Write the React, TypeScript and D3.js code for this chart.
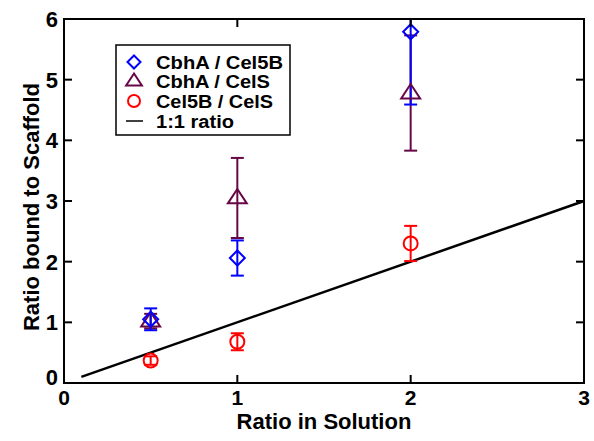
import React from "react";
import * as d3 from "d3";

const xTicks = [0, 1, 2, 3];
const yTicks = [0, 1, 2, 3, 4, 5, 6];

const seriesNames = ["CbhA / Cel5B", "CbhA / CelS", "Cel5B / CelS", "1:1 ratio"];
const seriesColors = ["#0000ff", "#670748", "#ff0000", "#000000"];

const ratioX = [0.5, 1, 2];
const cbhaCel5b = [1.05, 2.06, 5.79];
const cbhaCel5bErr = [0.18, 0.29, 1.2];
const cbhaCels = [1.02, 3.05, 4.78];
const cbhaCelsErr = [0.12, 0.66, 0.95];
const cel5bCels = [0.37, 0.68, 2.3];
const cel5bCelsErr = [0.07, 0.14, 0.29];
const unityLine = [0.1, 3];

const W = 594;
const H = 441;
const m = { left: 64, right: 10, top: 19, bottom: 58 };

export default function App() {
  const x = d3.scaleLinear().domain([0, 3]).range([m.left, W - m.right]);
  const y = d3.scaleLinear().domain([0, 6]).range([H - m.bottom, m.top]);
  const font = "'Liberation Sans', Arial, Helvetica, sans-serif";
  const line = d3.line<number>().x((d) => x(d)).y((d) => y(d));
  const cap = 6.5;

  const diamond = (cx: number, cy: number, r: number) =>
    `M${cx},${cy - r}L${cx + r},${cy}L${cx},${cy + r}L${cx - r},${cy}Z`;
  const triangle = (cx: number, cy: number, r: number) =>
    `M${cx},${cy - r}L${cx + r * 1.05},${cy + r * 0.6}L${cx - r * 1.05},${cy + r * 0.6}Z`;

  const errBars = (vals: number[], errs: number[], color: string) =>
    ratioX.map((xv, i) => {
      const px = x(xv);
      const top = y(Math.min(vals[i] + errs[i], 6));
      const bot = y(vals[i] - errs[i]);
      const clipped = vals[i] + errs[i] > 6;
      return (
        <g key={i} stroke={color} strokeWidth={2}>
          <line x1={px} x2={px} y1={top} y2={bot} />
          {!clipped && <line x1={px - cap} x2={px + cap} y1={top} y2={top} />}
          <line x1={px - cap} x2={px + cap} y1={bot} y2={bot} />
        </g>
      );
    });

  const [x0, x1] = x.range();
  const [y0, y1] = y.range();
  const tickLen = 8;

  const legendX = 116;
  const legendY = 45;
  const legendRows = [62, 81, 101, 121];

  return (
    <svg width={W} height={H} style={{ display: "block", position: "absolute", left: 0, top: 0 }}>
      <rect width={W} height={H} fill="#fff" />

      {/* 1:1 reference */}
      <path d={line(unityLine) || ""} stroke="#000" strokeWidth={2.5} fill="none" />

      {/* error bars */}
      {errBars(cel5bCels, cel5bCelsErr, seriesColors[2])}
      {errBars(cbhaCels, cbhaCelsErr, seriesColors[1])}
      {errBars(cbhaCel5b, cbhaCel5bErr, seriesColors[0])}

      {/* markers */}
      {ratioX.map((xv, i) => (
        <circle key={"c" + i} cx={x(xv)} cy={y(cel5bCels[i])} r={7} fill="none" stroke={seriesColors[2]} strokeWidth={2} />
      ))}
      {ratioX.map((xv, i) => (
        <path key={"t" + i} d={triangle(x(xv), y(cbhaCels[i]), 9)} fill="none" stroke={seriesColors[1]} strokeWidth={2} />
      ))}
      {ratioX.map((xv, i) => (
        <path key={"d" + i} d={diamond(x(xv), y(cbhaCel5b[i]), 7.5)} fill="none" stroke={seriesColors[0]} strokeWidth={2} />
      ))}

      {/* frame */}
      <rect x={x0} y={y1} width={x1 - x0} height={y0 - y1} fill="none" stroke="#000" strokeWidth={2} />

      {/* ticks */}
      {xTicks.slice(1, -1).map((t) => (
        <g key={"xt" + t} stroke="#000" strokeWidth={2}>
          <line x1={x(t)} x2={x(t)} y1={y0} y2={y0 - tickLen} />
          <line x1={x(t)} x2={x(t)} y1={y1} y2={y1 + tickLen} />
        </g>
      ))}
      {yTicks.slice(1, -1).map((t) => (
        <g key={"yt" + t} stroke="#000" strokeWidth={2}>
          <line x1={x0} x2={x0 + tickLen} y1={y(t)} y2={y(t)} />
          <line x1={x1} x2={x1 - tickLen} y1={y(t)} y2={y(t)} />
        </g>
      ))}

      {/* tick labels */}
      {xTicks.map((t) => (
        <text key={"xl" + t} x={x(t)} y={y0 + 22} textAnchor="middle" fontFamily={font} fontWeight="bold" fontSize={21}>
          {t}
        </text>
      ))}
      {yTicks.map((t) => (
        <text key={"yl" + t} x={x0 - 6} y={y(t) + (t === 0 ? 2 : 8)} textAnchor="end" fontFamily={font} fontWeight="bold" fontSize={22}>
          {t}
        </text>
      ))}

      {/* axis titles */}
      <text x={(x0 + x1) / 2} y={H - 12} textAnchor="middle" fontFamily={font} fontWeight="bold" fontSize={22}>
        Ratio in Solution
      </text>
      <text transform={`translate(39,${(y0 + y1) / 2 + 6}) rotate(-90)`} textAnchor="middle" fontFamily={font} fontWeight="bold" fontSize={22}>
        Ratio bound to Scaffold
      </text>

      {/* legend */}
      <rect x={legendX} y={legendY} width={174} height={90} fill="#fff" stroke="#000" strokeWidth={1.5} />
      <path d={diamond(legendX + 18, legendRows[0], 6.5)} fill="none" stroke={seriesColors[0]} strokeWidth={2} />
      <path d={triangle(legendX + 18, legendRows[1], 7.5)} fill="none" stroke={seriesColors[1]} strokeWidth={2} />
      <circle cx={legendX + 18} cy={legendRows[2]} r={6} fill="none" stroke={seriesColors[2]} strokeWidth={2} />
      <line x1={legendX + 10} x2={legendX + 27} y1={legendRows[3]} y2={legendRows[3]} stroke="#000" strokeWidth={1.5} />
      {seriesNames.map((n, i) => (
        <text key={n} x={legendX + 40} y={legendRows[i] + 6.5} fontFamily={font} fontWeight="bold" fontSize={18}
          textLength={[127, 114, 117, 78][i]} lengthAdjust="spacingAndGlyphs">
          {n}
        </text>
      ))}
    </svg>
  );
}
